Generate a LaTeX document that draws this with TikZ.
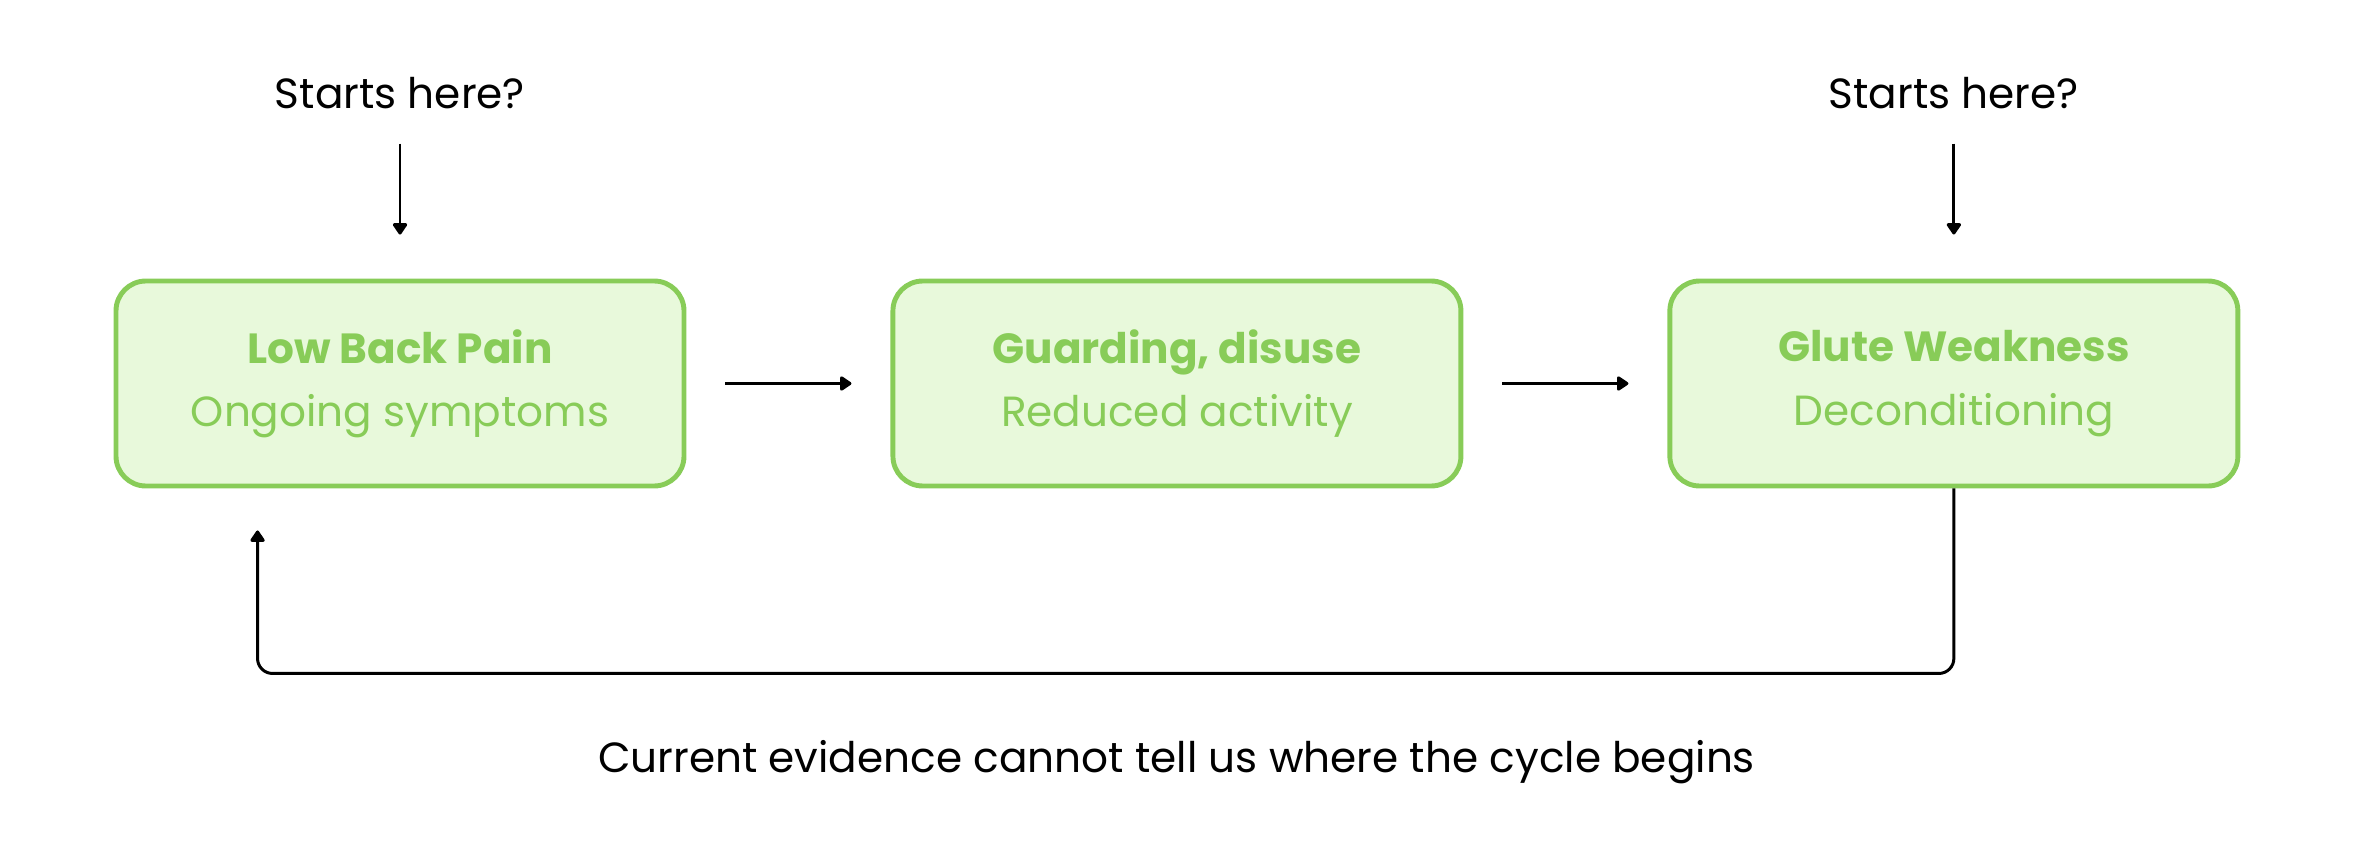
\documentclass[tikz,border=0pt]{standalone}
\usepackage{fontspec}
\setmainfont{Poppins}
\usepackage{xcolor}
\usepackage{tikz}
\usetikzlibrary{positioning,arrows.meta}

\definecolor{leafline}{HTML}{88CC58}
\definecolor{leaffill}{HTML}{E8F9DB}

\begin{document}
\begin{tikzpicture}[node distance=2.04cm,
    stage/.style={draw=leafline, fill=leaffill, line width=1.4pt, rounded corners=8.5pt,
                  minimum width=5.68cm, minimum height=2.05cm, align=center,
                  text=leafline, font=\fontsize{12}{18}\selectfont},
    arr/.style={-{Triangle[length=3.6pt,width=4.6pt,round]}, line width=0.85pt},
    note/.style={font=\fontsize{12}{14}\selectfont}]
    \useasboundingbox (0,0) rectangle (23.53,8.48);

    \node[stage] (pain) at (4.00,4.645) {\textbf{Low Back Pain}\\Ongoing symptoms};
    \node[stage, right=of pain] (guard) {\textbf{Guarding, disuse}\\Reduced activity};
    \node[stage, right=of guard] (glute) {\textbf{Glute Weakness}\\Deconditioning};

    \node[note, above=1.57cm of pain] (start1) {Starts here?};
    \node[note, above=1.57cm of glute] (start2) {Starts here?};
    \node[note] (caption) at (11.765,0.855) {Current evidence cannot tell us where the cycle begins};

    \draw[arr, shorten <=0.22cm, shorten >=0.44cm] (start1) -- (pain);
    \draw[arr, shorten <=0.22cm, shorten >=0.44cm] (start2) -- (glute);
    \draw[arr, shorten <=0.39cm, shorten >=0.39cm] (pain) -- (guard);
    \draw[arr, shorten <=0.39cm, shorten >=0.39cm] (guard) -- (glute);

    % loop back to the first box
    \coordinate (back) at ([xshift=1.44cm, yshift=-0.42cm]pain.south west);
    \draw[arr, rounded corners=0.15cm] (glute.south) |- ([yshift=-1.43cm]back) -- (back);
\end{tikzpicture}
\end{document}
